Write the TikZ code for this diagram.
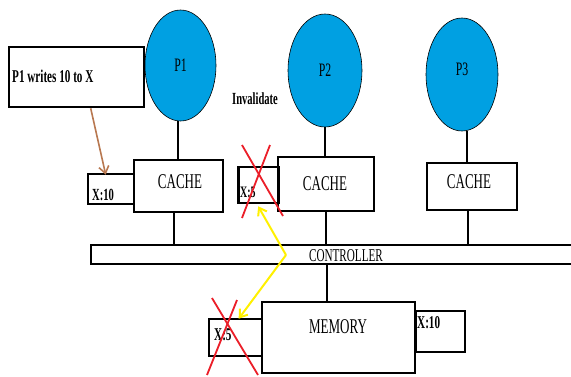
\documentclass[tikz,border=0pt]{standalone}
\usepackage{fontspec}
\usepackage{graphicx}
\setmainfont{Liberation Serif}
\usetikzlibrary{shapes.geometric,arrows.meta,calc}

% narrow lettering used throughout the figure
\newcommand\narrowtxt[2]{{\fontsize{#1}{#1}\selectfont\scalebox{0.62}[1]{#2}}}

\definecolor{procblue}{RGB}{0,160,226}
\definecolor{notebrown}{RGB}{184,120,80}
\definecolor{signalyellow}{RGB}{255,240,0}
\definecolor{crossred}{RGB}{235,30,40}

\tikzset{
  proc/.style={ellipse, draw=black, line width=0.6pt, fill=procblue, inner sep=0pt},
  box/.style={draw=black, line width=2.6pt, inner sep=0pt, fill=white},
  link/.style={line width=1.8pt, black},
  lbl/.style={inner sep=0pt, anchor=center},
  cross/.style={crossred, line width=1.8pt},
  msg/.style={signalyellow, line width=2pt, -{Straight Barb[length=7pt,width=10pt]}},
}

\begin{document}
\begin{tikzpicture}[x=1pt,y=-1pt]
\useasboundingbox (0,0) rectangle (571,376);

% processors
\node[proc, minimum width=71pt, minimum height=111pt] (p1) at (180.5,65.5) {\narrowtxt{19}{P1}};
\node[proc, minimum width=74pt, minimum height=113pt] (p2) at (325,70.5) {\narrowtxt{19}{P2}};
\node[proc, minimum width=72pt, minimum height=113pt] (p3) at (462,74.5) {};
\node[lbl] (p3t) at (462,69) {\narrowtxt{19}{P3}};

% caches
\node[box, minimum width=89pt, minimum height=52pt] (c1) at (178.5,186) {};
\node[lbl] (c1t) at (180,182) {\narrowtxt{21}{CACHE}};
\node[box, minimum width=96pt, minimum height=54pt] (c2) at (326,184) {};
\node[lbl] (c2t) at (325,184) {\narrowtxt{21}{CACHE}};
\node[box, minimum width=90pt, minimum height=47pt] (c3) at (472,186.5) {};
\node[lbl] (c3t) at (469,182) {\narrowtxt{21}{CACHE}};

% cache entries
\node[box, minimum width=46pt, minimum height=30pt] (x1) at (111,189) {};
\node[lbl, anchor=west] (x1t) at (92,195) {\narrowtxt{17}{\bfseries X:10}};
\node[box, minimum width=40pt, minimum height=36pt] (x2) at (258.5,185) {};
\node[lbl, anchor=west] (x2t) at (240,192) {\narrowtxt{16}{\bfseries X:5}};

% note
\node[box, minimum width=135pt, minimum height=60pt] (note) at (76.5,77) {};
\node[lbl, anchor=west] (notet) at (12,76) {\narrowtxt{18}{\bfseries P1 writes 10 to X}};
\node[lbl] (inv) at (255,99) {\narrowtxt{17}{\bfseries Invalidate}};

% controller bus
\coordinate (bustop) at (0,245);
\coordinate (busbot) at (0,264);
\draw[line width=2.6pt] (571,245) -- (91,245) -- (91,264) -- (571,264);
\node[lbl] (ctrl) at (346,256) {\narrowtxt{18}{CONTROLLER}};

% memory
\node[box, minimum width=49pt, minimum height=41pt] (xr) at (440.5,331.5) {};
\node[lbl, anchor=west] (xrt) at (417,323) {\narrowtxt{18}{\bfseries X:10}};
\node[box, minimum width=153pt, minimum height=71pt] (mem) at (338.5,337.5) {};
\node[lbl] (memt) at (338,327) {\narrowtxt{21}{MEMORY}};
\node[box, minimum width=53pt, minimum height=37pt] (xm) at (235.5,337.5) {};
\node[lbl, anchor=west] (xmt) at (214,335) {\narrowtxt{18}{\bfseries X:5}};

% wiring
\draw[link] (p1.south -| 178,0) -- (c1.north -| 178,0);
\draw[link] (p2) -- (c2.north -| p2);
\draw[link] (p3.south -| 467,0) -- (c3.north -| 467,0);
\draw[link] (c1.south -| 174,0) -- (bustop -| 174,0);
\draw[link] (c2.south) -- (c2.south |- bustop);
\draw[link] (c3.south -| 468,0) -- (bustop -| 468,0);
\draw[link] (busbot -| 327,0) -- (mem.north -| 327,0);

% write arrow
\draw[notebrown, line width=1.6pt, -{Straight Barb[length=7pt,width=10pt]}]
  ([xshift=83pt]note.south west) -- ([xshift=19pt,yshift=-2pt]x1.north west);

% invalidation messages
\coordinate (bend) at (286,255);
\draw[msg] (bend) -- ([xshift=21pt,yshift=-2pt]x2.south west);
\draw[msg] (bend) -- ([xshift=31pt,yshift=-1pt]xm.north west);

% stale copies crossed out
\draw[cross] (242,145) -- (283,216);
\draw[cross] (270,145) -- (242,218);
\draw[cross] (212,298) -- (258,375);
\draw[cross] (237,300) -- (207,375);
\end{tikzpicture}
\end{document}
